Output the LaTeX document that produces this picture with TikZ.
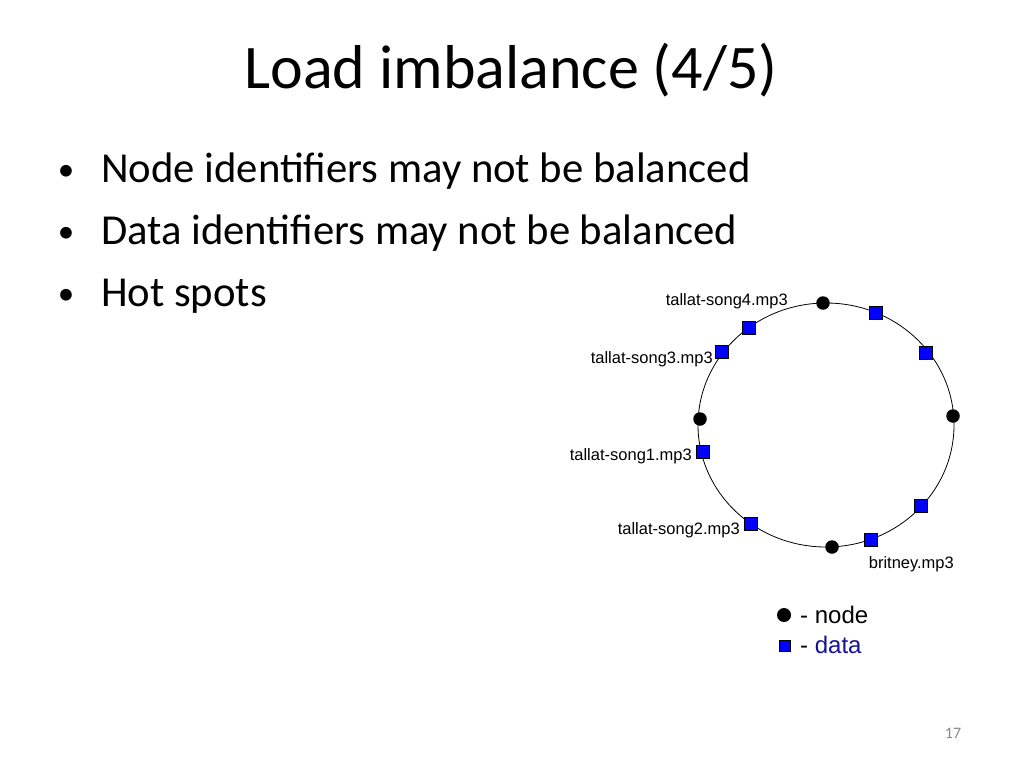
\documentclass[tikz,border=0pt]{standalone}
\usepackage{fontspec}
\usetikzlibrary{shapes.geometric}
\setmainfont{Carlito}
\newfontfamily\arialf{Liberation Sans}
\begin{document}
\begin{tikzpicture}[x=1pt,y=-1pt,
  ringnode/.style={circle,fill=black,minimum size=13.5pt,inner sep=0pt},
  datasq/.style={rectangle,draw=black,line width=0.6pt,fill=blue,minimum size=13pt,inner sep=0pt},
  lbl/.style={font=\arialf\fontsize{16.5}{18}\selectfont,inner sep=0pt},
  legtext/.style={font=\arialf\fontsize{24}{26}\selectfont,inner sep=0pt,anchor=west},
  bullettext/.style={font=\fontsize{42.7}{50}\selectfont,inner sep=0pt,anchor=base west},
  bulletdot/.style={font=\fontsize{33}{40}\selectfont,inner sep=0pt,anchor=base}]
\useasboundingbox (0,0) rectangle (1024,768);
\fill[white] (0,0) rectangle (1024,768);
% title
\node[font=\fontsize{62}{70}\selectfont,inner sep=0pt,anchor=base] (title) at (511,88) {Load imbalance (4/5)};
% bullets
\node[bulletdot] (b1) at (66,180) {•};
\node[bullettext] (t1) at (101,182) {Node identifiers may not be balanced};
\node[bulletdot] (b2) at (66,242) {•};
\node[bullettext] (t2) at (101,244) {Data identifiers may not be balanced};
\node[bulletdot] (b3) at (66,304) {•};
\node[bullettext] (t3) at (101,306) {Hot spots};
% ring
\node[ellipse,draw=black,line width=0.8pt,minimum width=256pt,minimum height=244pt,inner sep=0pt] (ring) at (826,425) {};
% nodes
\node[ringnode] (n1) at (823,303) {};
\node[ringnode] (n2) at (700,419) {};
\node[ringnode] (n3) at (953,416) {};
\node[ringnode] (n4) at (832,547) {};
% data
\node[datasq] (d1) at (876,313) {};
\node[datasq] (d2) at (749,328) {};
\node[datasq] (d3) at (722,352) {};
\node[datasq] (d4) at (926,353) {};
\node[datasq] (d5) at (703,452) {};
\node[datasq] (d6) at (921,506) {};
\node[datasq] (d7) at (751,524) {};
\node[datasq] (d8) at (871,540) {};
% labels
\node[lbl,anchor=east] (l4) at (788,301) {tallat-song4.mp3};
\node[lbl,anchor=east] (l3) at (713,359) {tallat-song3.mp3};
\node[lbl,anchor=east] (l1) at (692,456) {tallat-song1.mp3};
\node[lbl,anchor=east] (l2) at (740,530) {tallat-song2.mp3};
\node[lbl,anchor=east] (lb) at (954,564) {britney.mp3};
% legend
\node[ringnode,minimum size=14pt] (legn) at (784,615) {};
\node[legtext] (legnt) at (800,615) {- node};
\node[datasq,minimum size=11pt] (legd) at (785,646) {};
\node[legtext] (legdt) at (800,645) {- \textcolor[RGB]{20,20,150}{data}};
% page number
\node[font=\fontsize{16}{18}\selectfont,text={rgb,255:red,137;green,137;blue,137},inner sep=0pt] (pg) at (953,733) {17};
\end{tikzpicture}
\end{document}
